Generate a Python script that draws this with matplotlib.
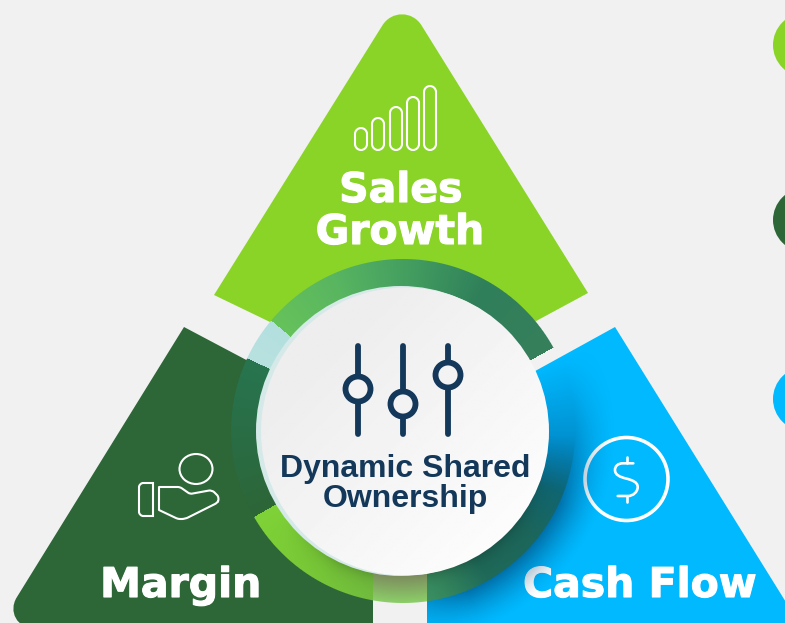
import numpy as np
import matplotlib
matplotlib.use("Agg")
import matplotlib.pyplot as plt
import matplotlib.patheffects as pe
from matplotlib.colors import to_rgb
from matplotlib.patches import Circle, Ellipse, PathPatch
from matplotlib.path import Path

# labels
top_label = ["Sales", "Growth"]
left_label = "Margin"
right_label = "Cash Flow"
center_label = "Dynamic Shared\nOwnership"

# signal bars icon (left x, top y)
bar_lefts = [355, 372, 390, 407, 424]
bar_tops = [128, 118, 107, 97, 86]
bar_bottom = 150

# slider icon (x of the rail, y of the knob)
slider_x = [358, 403, 448]
slider_knob_y = [389, 404, 375]

# colours
bg_color = "#f1f1f1"
green = "#8ad428"
dark_green = "#2d6637"
blue = "#00b9ff"
navy = "#13385a"

# ring segments: angle stops (degrees, counter clockwise from east) and colours
ring_angles = [29, 60, 90, 115, 140, 140.01, 155, 155.01, 185, 210, 210.01, 240, 262, 272, 272.01,
               285, 300, 320, 340, 360]
ring_colors = ["#37805c", "#2f7f5a", "#45a060", "#59b660", "#66c25a",
               "#b3dfdf", "#b8e2e0",
               "#27754f", "#2a6c44", "#2d6637",
               "#7fd236", "#78c838", "#72bd40", "#80c455",
               "#3f9a66", "#35885f", "#1f6b5a", "#1d685c", "#0f6672", "#0a6f94"]

ring_cx, ring_cy = 403, 431
ring_outer, ring_inner = 172, 144

fig = plt.figure(figsize=(7.85, 6.23), dpi=100, facecolor=bg_color)
ax = fig.add_axes([0, 0, 1, 1])
ax.set_facecolor(bg_color)


# polygon whose corners are rounded, radii[i] = cut length at corner i
def rounded_path(points, radii, k=0.46):
    verts, codes = [], []
    n = len(points)
    for i in range(n):
        p = np.array(points[i], dtype=float)
        prev = np.array(points[i - 1], dtype=float)
        nxt = np.array(points[(i + 1) % n], dtype=float)
        r = radii[i]
        if r == 0:
            verts.append(p)
            codes.append(Path.LINETO)
        else:
            a = p + (prev - p) / np.linalg.norm(prev - p) * r
            b = p + (nxt - p) / np.linalg.norm(nxt - p) * r
            verts += [a, a + (p - a) * k, b + (p - b) * k, b]
            codes += [Path.LINETO, Path.CURVE4, Path.CURVE4, Path.CURVE4]
    codes[0] = Path.MOVETO
    verts.append(verts[0])
    codes.append(Path.CLOSEPOLY)
    return Path(verts, codes)


# pixel grid for the gradient layers
px, py = np.meshgrid(np.arange(785) + 0.5, np.arange(623) + 0.5)
full_extent = (0, 785, 623, 0)

# dots on the right edge
for y, col in zip([45, 220, 399], [green, dark_green, blue]):
    ax.add_patch(Circle((805, y), 32, fc=col, ec="none", zorder=2))

# three triangles
top_tri = rounded_path([(402, -6), (588, 293), (538, 320), (403, 400), (270, 322), (214, 295)],
                       [37, 0, 0, 0, 0, 0], k=0.47)
left_tri = rounded_path([(184, 327), (269, 372), (373, 431), (373, 632), (-2.2, 628)],
                        [0, 0, 0, 0, 36])
right_tri = rounded_path([(615, 327), (802, 628), (790, 632), (427, 632), (427, 431), (537, 370)],
                         [0, 30, 0, 0, 0, 0])
ax.add_patch(PathPatch(top_tri, fc=green, ec="none", zorder=3))
ax.add_patch(PathPatch(left_tri, fc=dark_green, ec="none", zorder=3))
right_patch = PathPatch(right_tri, fc=blue, ec="none", zorder=3)
ax.add_patch(right_patch)

# triangle labels
label_font = dict(family="DejaVu Sans", fontweight="bold", fontsize=29.5, color="white",
                  ha="center", va="baseline", zorder=5,
                  path_effects=[pe.withStroke(linewidth=0.8, foreground="white")])
ax.text(401, 202, top_label[0], **label_font)
ax.text(400, 244, top_label[1], **label_font)
ax.text(181, 597, left_label, **label_font)
ax.text(640, 597, right_label, **label_font)

# signal bars
for x, top in zip(bar_lefts, bar_tops):
    bar = rounded_path([(x, top), (x + 12, top), (x + 12, bar_bottom), (x, bar_bottom)],
                       [6, 6, 6, 6], k=0.55)
    ax.add_patch(PathPatch(bar, fc="none", ec="white", lw=1.5, zorder=5))

# hand icon
ax.add_patch(Ellipse((196, 469), 33, 30, fc="none", ec="white", lw=1.5, zorder=5))
cuff = rounded_path([(153, 483), (153, 516), (139, 516), (139, 483)], [0, 0, 4, 4])
ax.add_patch(PathPatch(cuff, fc="none", ec="white", lw=1.5, zorder=5))
hand = rounded_path([(159, 487), (180, 487), (190, 494), (212, 490), (220, 498),
                     (217, 503), (185, 519), (178, 519), (159, 510)],
                    [0, 2, 2, 3, 4, 2, 3, 2, 0])
ax.add_patch(PathPatch(hand, fc="none", ec="white", lw=1.5, joinstyle="round", zorder=5))

# dollar icon
ax.add_patch(Circle((626.5, 479), 41.5, fc="none", ec="white", lw=2.6, zorder=5))
dollar_verts = [(633.3, 463.3), (623, 463.3),
                (618, 463.3), (615, 466), (615, 470),
                (615, 475), (620, 477), (626, 478.5),
                (632, 480), (637.7, 482), (637.7, 487),
                (637.7, 492), (633, 496), (628, 496),
                (617.7, 496)]
dollar_codes = [Path.MOVETO, Path.LINETO] + [Path.CURVE4] * 12 + [Path.LINETO]
ax.add_patch(PathPatch(Path(dollar_verts, dollar_codes), fc="none", ec="white", lw=1.9,
                       capstyle="round", zorder=5))
ax.plot([626.5, 626.5], [457, 463], color="white", lw=1.9, solid_capstyle="round", zorder=5)
ax.plot([626.5, 626.5], [496, 502], color="white", lw=1.9, solid_capstyle="round", zorder=5)

# polar coordinates around the ring
dx = px - ring_cx
dy = ring_cy - py
rad = np.hypot(dx, dy)
ang = np.degrees(np.arctan2(dy, dx)) % 360

# shadow of the ring on the blue triangle, falls over the C of Cash as well
wrapped = np.where(ang < 40, ang + 360, ang)
ang_weight = np.clip((385 - wrapped) / 50, 0, 1) * np.clip((wrapped - 262) / 30, 0, 1)
shadow_alpha = 0.6 * ang_weight * np.clip(1 - (rad - ring_outer) / 42, 0, 1) ** 1.6
shadow = np.zeros(px.shape + (4,))
shadow[..., :3] = to_rgb("#003f70")
shadow[..., 3] = shadow_alpha
shadow_img = ax.imshow(shadow, extent=full_extent, zorder=6, aspect="auto", interpolation="bilinear")
shadow_img.set_clip_path(right_patch)

# ring
rgb = np.array([to_rgb(c) for c in ring_colors])
ring = np.zeros(px.shape + (4,))
for k in range(3):
    ring[..., k] = np.interp(ang, ring_angles, rgb[:, k])
ring_alpha = np.clip(ring_outer - rad + 0.5, 0, 1) * np.clip(rad - ring_inner + 0.5, 0, 1)
ring_alpha = ring_alpha * (ang >= 29)
ring_alpha = ring_alpha * np.where(ang > 338, np.clip((358 - ang) / 20, 0, 1), 1)

# the disc drops a shadow on the lower part of the ring
low = np.clip((ang - 215) / 30, 0, 1) * np.clip((350 - ang) / 30, 0, 1)
dark = 1 - 0.22 * low * np.exp(-(rad - ring_inner) / 9)
for k in range(3):
    ring[..., k] *= dark

# the part of the ring over the white gap at the bottom
gap = (px >= 373) & (px < 427) & (py > 500)
t = np.clip((rad - ring_inner) / (ring_outer - ring_inner), 0, 1)
for k, (c0, c1) in enumerate(zip(to_rgb("#7c8a5e"), to_rgb("#8ccf68"))):
    ring[..., k] = np.where(gap, c0 + (c1 - c0) * t, ring[..., k])
ring[..., 3] = ring_alpha
ax.imshow(ring, extent=full_extent, zorder=7, aspect="auto", interpolation="nearest")

# pale rim and disc with a light gradient
ax.add_patch(Circle((401, 431), 145, fc="#d6e9e9", ec="none", zorder=9))
gx, gy = np.meshgrid(np.linspace(0, 1, 200), np.linspace(0, 1, 200))
shade = np.clip((gx + gy - 0.5) / 1.2, 0, 1)
disc = Circle((405, 431.5), 144, fc="none", ec="none", zorder=10)
ax.add_patch(disc)
img = ax.imshow(0.933 + 0.055 * shade, cmap="gray", vmin=0, vmax=1, extent=(261, 549, 575.5, 287.5),
                zorder=10, aspect="auto", interpolation="bilinear")
img.set_clip_path(disc)

# sliders
for x, knob in zip(slider_x, slider_knob_y):
    ax.plot([x, x], [345.5, 433.5], color=navy, lw=4.2, solid_capstyle="round", zorder=11)
    ax.add_patch(Circle((x, knob), 12.5, fc="#f3f3f4", ec=navy, lw=4.2, zorder=12))

ax.text(405.5, 484, center_label, family="Liberation Sans", fontweight="bold", fontsize=23,
        color=navy, ha="center", va="center", linespacing=1.0, zorder=12)

ax.set_xlim(0, 785)
ax.set_ylim(623, 0)
ax.axis("off")

fig.savefig("out.png", dpi=100, facecolor=bg_color)
